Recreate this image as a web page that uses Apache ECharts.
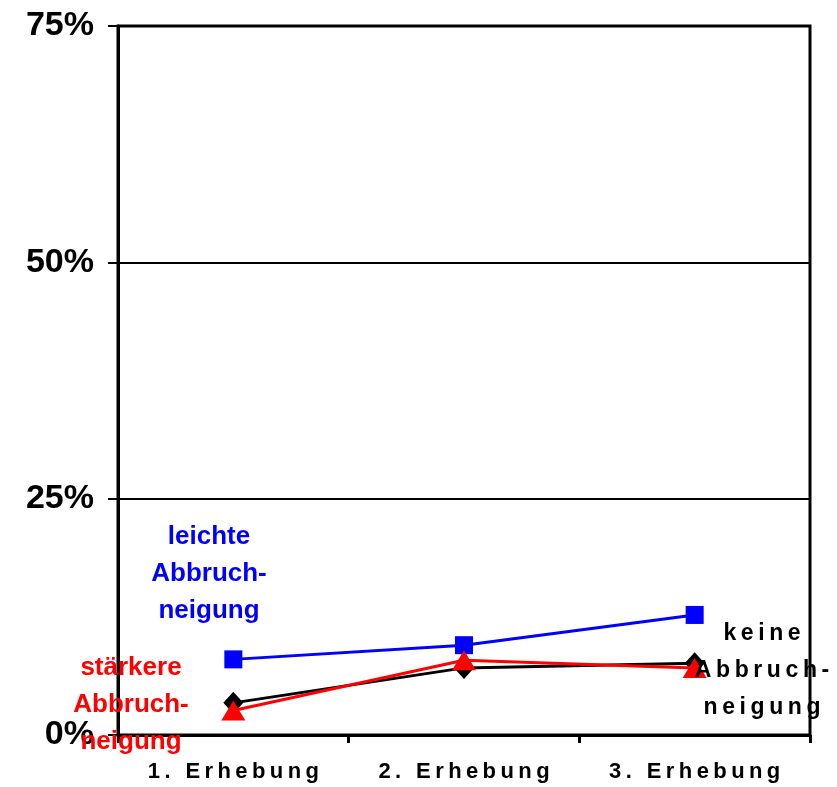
<!DOCTYPE html>
<html><head><meta charset="utf-8">
<script src="https://cdn.jsdelivr.net/npm/echarts@6/dist/echarts.min.js"></script>
<style>html,body{margin:0;padding:0;background:#fff}#c{width:837px;height:787px}</style>
</head><body><div id="c"></div>
<script>
const categories = ['1. Erhebung', '2. Erhebung', '3. Erhebung'];
const leichte = [8.0, 9.5, 12.7];
const keine = [3.4, 7.1, 7.6];
const staerkere = [2.6, 7.9, 7.1];
const yTicks = [0, 25, 50, 75];

const TS = '\u2009';
const spaced = s => s.split('').join(TS);
const FONT = '"Liberation Sans", Arial, sans-serif';

const chart = echarts.init(document.getElementById('c'));
chart.setOption({
  animation: false,
  backgroundColor: '#fff',
  grid: { left: 118, right: 27, top: 26, bottom: 52, show: true, borderColor: '#000', borderWidth: 3, backgroundColor: 'transparent' },
  xAxis: {
    type: 'category', data: categories, boundaryGap: true,
    axisLine: { lineStyle: { color: '#000', width: 3 } },
    axisTick: { show: true, interval: 0, length: 8, lineStyle: { color: '#000', width: 3 } },
    axisLabel: { interval: 0, hideOverlap: false, color: '#000', fontFamily: FONT, fontWeight: 'bold', fontSize: 22, margin: 26, formatter: v => spaced(v) }
  },
  yAxis: {
    type: 'value', min: yTicks[0], max: yTicks[yTicks.length - 1], interval: 25,
    axisLine: { show: true, lineStyle: { color: '#000', width: 3 } },
    axisTick: { show: true, length: 10, lineStyle: { color: '#000', width: 2 } },
    splitLine: { show: true, lineStyle: { color: '#000', width: 2 } },
    axisLabel: { color: '#000', fontFamily: FONT, fontWeight: 'bold', fontSize: 34, margin: 24, formatter: '{value}%' }
  },
  series: [
    { name: 'leichte', type: 'line', data: leichte, symbol: 'rect', symbolSize: 18, z: 3,
      lineStyle: { color: '#0000ff', width: 3 }, itemStyle: { color: '#0000ff' } },
    { name: 'keine', type: 'line', data: keine, symbol: 'diamond', symbolSize: [20, 22], z: 4,
      lineStyle: { color: '#000', width: 3 }, itemStyle: { color: '#000' } },
    { name: 'stärkere', type: 'line', data: staerkere, symbol: 'triangle', symbolSize: [24, 20], z: 5,
      lineStyle: { color: '#ff0000', width: 3 }, itemStyle: { color: '#ff0000' } }
  ],
  graphic: [
    { type: 'text', x: 209, y: 574, z: 100, style: { text: 'leichte\nAbbruch-\nneigung', fill: '#0000ff', font: 'bold 26px ' + FONT, lineHeight: 37, align: 'center', verticalAlign: 'middle' } },
    { type: 'text', x: 131, y: 705, z: 100, style: { text: 'stärkere\nAbbruch-\nneigung', fill: '#ff0000', font: 'bold 26px ' + FONT, lineHeight: 37, align: 'center', verticalAlign: 'middle' } },
    { type: 'text', x: 762, y: 671, z: 100, style: { text: spaced('keine') + '\n' + spaced('Abbruch-') + '\n' + spaced('neigung'), fill: '#000', font: 'bold 23px ' + FONT, lineHeight: 37, align: 'center', verticalAlign: 'middle' } }
  ]
});
</script></body></html>
